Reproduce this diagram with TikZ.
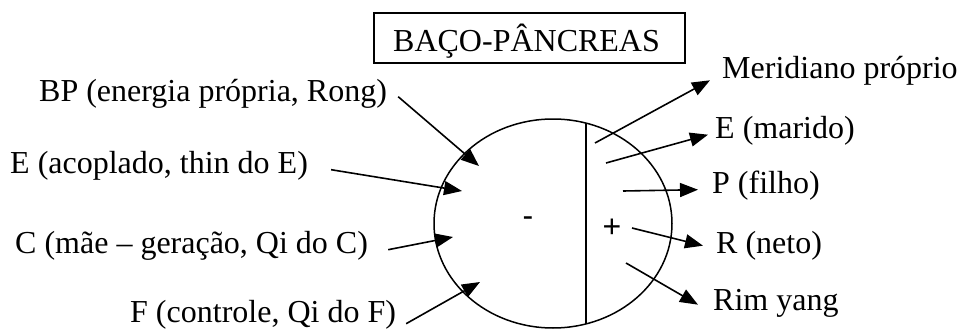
\documentclass[tikz,border=0pt]{standalone}
\usepackage{fontspec}
\setmainfont{Liberation Serif}
\newfontfamily\signfont{Liberation Sans}
\usetikzlibrary{arrows.meta,calc}

\begin{document}
\begin{tikzpicture}[x=1pt,y=-1pt,
    lbl/.style={anchor=base west,inner xsep=0pt,inner ysep=0pt,
      text height=0.66em,text depth=0pt,font=\fontsize{32}{38}\selectfont},
    arr/.style={-{Triangle[length=18pt,width=14pt]},line width=1.6pt},
    sign/.style={anchor=base,inner sep=0pt,font=\signfont\fontsize{32}{38}\selectfont}]
        \useasboundingbox (0,0) rectangle (959,329);

        % title box
        \draw[line width=1.4pt] (374,13) rectangle (685,63);
        \node[lbl] (title) at (393,52) {BAÇO-PÂNCREAS};

        % organ: circle split in two halves
        \draw[line width=1.5pt] (553,223.5) ellipse [x radius=119, y radius=104.5];
        \draw[line width=1.5pt] (586,123.1) -- (586,323.9);
        \node[sign] (minus) at (528,226.5) {-};
        \node[sign] (plus) at (612,237.4) {+};

        % points inside the circle
        \coordinate (bp-in) at (479,166);
        \coordinate (eac-in) at (462,191);
        \coordinate (c-in) at (453,237);
        \coordinate (f-in) at (480,282);
        \coordinate (mer-out) at (595,143);
        \coordinate (em-out) at (606,163);
        \coordinate (p-out) at (623,191);
        \coordinate (r-out) at (632,228);
        \coordinate (rim-out) at (626,263);

        % labels on the left
        \node[lbl] (bp) at (39,102) {BP (energia própria, Rong)};
        \node[lbl] (eac) at (10,173) {E (acoplado, thin do E)};
        \node[lbl] (c) at (15,253) {C (mãe – geração, Qi do C)};
        \node[lbl] (f) at (130,322) {F (controle, Qi do F)};

        % labels on the right
        \node[lbl] (mer) at (722,79) {Meridiano próprio};
        \node[lbl] (em) at (715,139) {E (marido)};
        \node[lbl] (p) at (712,193) {P (filho)};
        \node[lbl] (r) at (716,253) {R (neto)};
        \node[lbl] (rim) at (713,310) {Rim yang};

        \draw[arr] ([xshift=11pt,yshift=2pt]bp.east) -- (bp-in);
        \draw[arr] ([xshift=23pt]eac.east) -- (eac-in);
        \draw[arr] ([xshift=20pt]c.east) -- (c-in);
        \draw[arr] ([xshift=10pt,yshift=-5pt]f.east) -- (f-in);

        \draw[arr] (mer-out) -- ([xshift=-12pt,yshift=-4.6pt]mer.west);
        \draw[arr] (em-out) -- ([xshift=-7pt,yshift=1pt]em.west);
        \draw[arr] (p-out) -- ([xshift=-14pt]p.west);
        \draw[arr] (r-out) -- ([xshift=-13pt,yshift=4pt]r.west);
        \draw[arr] (rim-out) -- ([xshift=-15pt,yshift=2pt]rim.west);
      \end{tikzpicture}
\end{document}
